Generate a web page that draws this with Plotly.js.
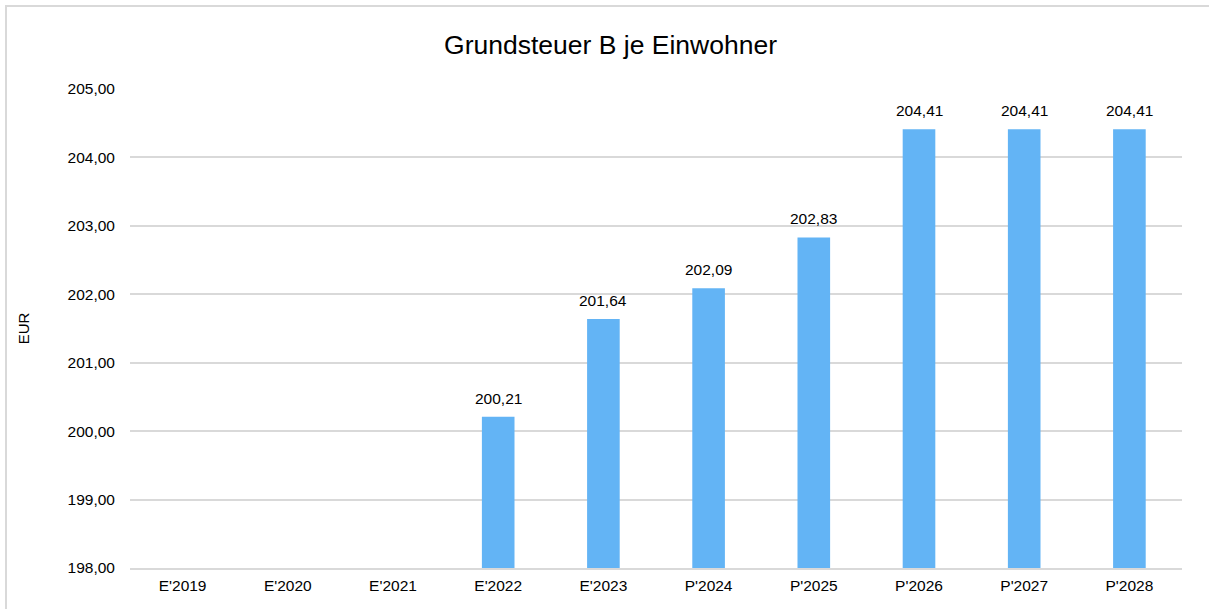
<!DOCTYPE html>
<html>
<head>
<meta charset="utf-8">
<script src="https://cdn.plot.ly/plotly-3.0.1.min.js"></script>
<style>
  html, body { margin: 0; padding: 0; background: #fff; }
  #chart { width: 1209px; height: 609px; }
  #frame { position: absolute; left: 5px; top: 5px; width: 1215px; height: 620px;
           border: 2px solid #d9d9d9; pointer-events: none; box-sizing: border-box; }
</style>
</head>
<body>
<div id="chart"></div>
<div id="frame"></div>
<script>
const categories = ["E'2019", "E'2020", "E'2021", "E'2022", "E'2023", "P'2024", "P'2025", "P'2026", "P'2027", "P'2028"];
const values = [null, null, null, 200.21, 201.64, 202.09, 202.83, 204.41, 204.41, 204.41];
const yTicks = [198, 199, 200, 201, 202, 203, 204, 205];

const font = "Liberation Sans, Arial, sans-serif";

const labels = [];
categories.forEach((c, i) => {
  if (values[i] !== null) {
    labels.push({
      x: c, y: values[i], xref: "x", yref: "y",
      text: values[i].toFixed(2).replace(".", ","),
      showarrow: false, yanchor: "bottom", yshift: 8,
      font: { family: font, size: 15.5, color: "#000" }
    });
  }
});

Plotly.newPlot("chart", [{
  type: "bar",
  x: categories,
  y: values,
  marker: { color: "#63b4f5" },
  textposition: "none",
  hoverinfo: "skip"
}], {
  width: 1209, height: 609,
  separators: ",.",
  margin: { l: 130, r: 27, t: 89, b: 41 },
  paper_bgcolor: "#fff", plot_bgcolor: "#fff",
  bargap: 0.69,
  showlegend: false,
  annotations: labels,
  font: { family: font, size: 15.5, color: "#000" },
  title: { text: "Grundsteuer B je Einwohner", font: { family: font, size: 26.5, color: "#000" },
           x: 0.505, xanchor: "center", y: 1 - 45/609, yanchor: "middle", yref: "container" },
  xaxis: { type: "category", showgrid: false, showline: true, linecolor: "#d9d9d9", linewidth: 2,
           ticks: "", ticklabelstandoff: 2, tickfont: { family: font, size: 15.5, color: "#000" } },
  yaxis: { range: [198, 205], tickvals: yTicks, tickformat: ".2f", showgrid: true, gridcolor: "#d9d9d9",
           gridwidth: 2, zeroline: false, showline: false, ticks: "", ticklabelstandoff: 14,
           tickfont: { family: font, size: 15.5, color: "#000" },
           title: { text: "EUR", font: { family: font, size: 15, color: "#000" }, standoff: 34 } }
}, { staticPlot: true });
</script>
</body>
</html>
